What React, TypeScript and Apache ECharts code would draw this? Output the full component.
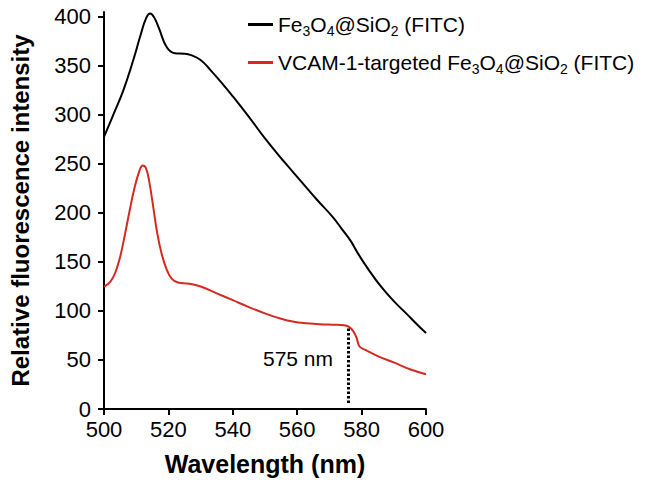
import React, { useEffect, useRef } from "react";
import * as echarts from "echarts";

// Wavelength (nm) and intensity for Fe3O4@SiO2 (FITC)
const blackX = [500, 503, 506, 509, 511.5, 513, 514.3, 515.5, 517, 519.5, 522, 525, 527, 530, 533, 537, 540, 545, 550, 556, 561, 566, 571, 574, 576.5, 579, 582, 586, 590, 594, 597, 600];
const blackY = [277.6, 301, 325, 355, 383, 398, 403.5, 400, 389, 369, 363, 362.5, 361, 356, 346, 331, 319, 298, 276, 252, 233, 214, 196, 183, 172, 158, 143, 125, 110, 97, 87, 77.5];

// Wavelength (nm) and intensity for VCAM-1-targeted Fe3O4@SiO2 (FITC)
const redX = [500, 502, 503.5, 505, 506.5, 508, 509.5, 511, 512, 513, 514, 515.3, 516.5, 518, 519.5, 521, 523, 526, 530, 535, 540, 545, 550, 555, 559, 563, 567, 571, 574.5, 576, 577.5, 578.5, 579.3, 581, 585, 590, 595, 600];
const redY = [124.7, 130, 139, 155, 178, 203, 226, 243, 248.5, 246, 233, 206, 180, 157, 142, 133, 129, 128, 125, 118, 111, 104, 97.5, 92, 89, 87.5, 86.5, 86, 85.5, 84, 79, 72, 64, 60.5, 54, 47.5, 40.5, 35.5];

const seriesNames = ["Fe₃O₄@SiO₂ (FITC)", "VCAM-1-targeted Fe₃O₄@SiO₂ (FITC)"];
const legendRich = [
  "{n|Fe}{s|3}{n|O}{s|4}{n|@SiO}{s|2}{n| (FITC)}",
  "{n|VCAM-1-targeted Fe}{s|3}{n|O}{s|4}{n|@SiO}{s|2}{n| (FITC)}",
];

const xTicks = { min: 500, max: 600, interval: 20 };
const yTickValues = [0, 50, 100, 150, 200, 250, 300, 350, 400];
const yMax = 405;

// 575 nm marker
const markerX = 576;
const markerTop = 82;
const markerBottom = 6;
const markerLabel = "575 nm";

const FONT = "'Liberation Sans', Arial, Helvetica, sans-serif";

export default function App() {
  const ref = useRef<HTMLDivElement>(null);
  useEffect(() => {
    document.body.style.margin = "0";
    if (!ref.current) return;
    const chart = echarts.init(ref.current, null, { renderer: "svg" });
    const black = blackX.map((x, i) => [x, blackY[i]]);
    const red = redX.map((x, i) => [x, redY[i]]);
    chart.setOption({
      animation: false,
      textStyle: { fontFamily: FONT, color: "#000" },
      grid: { left: 104, right: 239, top: 12, bottom: 77 },
      legend: {
        data: seriesNames,
        orient: "vertical",
        left: 243,
        top: 6,
        itemGap: 11,
        itemWidth: 25,
        itemHeight: 3,
        icon: "rect",
        formatter: (name: string) => legendRich[seriesNames.indexOf(name)],
        textStyle: {
          fontFamily: FONT,
          color: "#000",
          rich: {
            n: { fontSize: 21, lineHeight: 24, fontFamily: FONT, color: "#000" },
            s: { fontSize: 14, lineHeight: 11, padding: [13, 0, 0, 0], fontFamily: FONT, color: "#000" },
          },
        },
      },
      xAxis: {
        type: "value",
        min: xTicks.min,
        max: xTicks.max,
        interval: xTicks.interval,
        name: "Wavelength (nm)",
        nameLocation: "middle",
        nameGap: 42,
        nameTextStyle: { fontSize: 25, fontWeight: "bold", color: "#000", fontFamily: FONT },
        axisLine: { lineStyle: { color: "#000", width: 2 } },
        axisTick: { length: 6, lineStyle: { color: "#000", width: 2 } },
        axisLabel: { fontSize: 22, color: "#000", margin: 9, fontFamily: FONT },
        splitLine: { show: false },
      },
      yAxis: {
        type: "value",
        min: 0,
        max: yMax,
        interval: 50,
        name: "Relative fluorescence intensity",
        nameLocation: "middle",
        nameGap: 72,
        nameTextStyle: { fontSize: 24, fontWeight: "bold", color: "#000", fontFamily: FONT },
        axisLine: { show: true, lineStyle: { color: "#000", width: 2 } },
        axisTick: { show: true, length: 6, customValues: yTickValues, lineStyle: { color: "#000", width: 2 } },
        axisLabel: { fontSize: 22, color: "#000", margin: 13, customValues: yTickValues, fontFamily: FONT },
        splitLine: { show: false },
      },
      series: [
        {
          name: seriesNames[0],
          type: "line",
          data: black,
          smooth: 0.45,
          symbol: "none",
          clip: false,
          lineStyle: { color: "#000", width: 2 },
          itemStyle: { color: "#000" },
        },
        {
          name: seriesNames[1],
          type: "line",
          data: red,
          smooth: 0.4,
          symbol: "none",
          clip: false,
          lineStyle: { color: "#d42a20", width: 2 },
          itemStyle: { color: "#d42a20" },
          markLine: {
            silent: true,
            symbol: "none",
            label: { show: false },
            lineStyle: { color: "#000", width: 3, type: [2.5, 2] },
            data: [[{ coord: [markerX, markerTop] }, { coord: [markerX, markerBottom] }]],
          },
        },
      ],
      graphic: [
        {
          type: "text",
          x: 333,
          y: 358,
          style: {
            text: markerLabel,
            fontSize: 21,
            fontFamily: FONT,
            fill: "#000",
            textAlign: "right",
            textVerticalAlign: "middle",
          },
        },
      ],
    });
    return () => chart.dispose();
  }, []);
  return <div ref={ref} style={{ width: 665, height: 486 }} />;
}
